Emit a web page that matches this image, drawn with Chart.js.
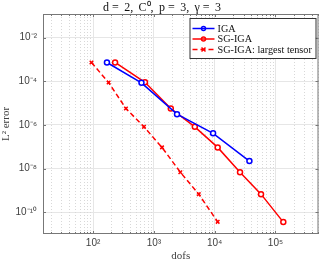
<!DOCTYPE html>
<html>
<head>
<meta charset="utf-8">
<script src="https://cdn.jsdelivr.net/npm/chart.js@4"></script>
<style>
  html, body { margin: 0; padding: 0; background: #fff; }
  #wrap { width: 324px; height: 263px; }
</style>
</head>
<body>
<div id="wrap"><canvas id="c" width="324" height="263"></canvas></div>
<script>
// values
const dofsIGA = [169, 625, 2401, 9409, 37249];
const errIGA = [7.2e-4, 8.4e-5, 3.1e-6, 4.1e-7, 2.2e-8];

const dofsSG = [230, 713, 1897, 4710, 11200, 26100, 57800, 134500];
const errSG = [7.2e-4, 8.9e-5, 5.6e-6, 8.1e-7, 9.3e-8, 6.8e-9, 6.7e-10, 3.5e-11];

const dofsTensor = [94, 180, 347, 687, 1360, 2720, 5470, 11200];
const errTensor = [7.2e-4, 8.7e-5, 5.6e-6, 8.1e-7, 9.3e-8, 6.8e-9, 6.7e-10, 3.6e-11];

const xTicks = [1e2, 1e3, 1e4, 1e5];
const yTicks = [1e-10, 1e-8, 1e-6, 1e-4, 1e-2];

const AX = '#404040';
const SUP = { '-': '⁻', '0': '⁰', '1': '¹', '2': '²', '3': '³', '4': '⁴', '5': '⁵', '6': '⁶', '7': '⁷', '8': '⁸', '9': '⁹' };
const pow10 = v => '10' + String(Math.round(Math.log10(v))).split('').map(c => SUP[c]).join('');

const pts = (xs, ys) => xs.map((x, i) => ({ x, y: ys[i] }));

// minor grid, inner ticks, box and legend
const matlabAxes = {
    id: 'matlabAxes',
    beforeDatasetsDraw(chart) {
        const { ctx, chartArea: a, scales: { x } } = chart;
        ctx.save();
        ctx.strokeStyle = '#d8d8d8';
        ctx.lineWidth = 1;
        ctx.setLineDash([1, 2]);
        for (let d = 1; d <= 5; d++) {
            for (let k = 2; k <= 9; k++) {
                const v = k * Math.pow(10, d);
                if (v < x.min || v > x.max) continue;
                const px = Math.round(x.getPixelForValue(v)) + 0.5;
                ctx.beginPath();
                ctx.moveTo(px, a.top);
                ctx.lineTo(px, a.bottom);
                ctx.stroke();
            }
        }
        ctx.restore();
    },
    afterDraw(chart) {
        const { ctx, chartArea: a, scales: { x, y } } = chart;
        ctx.save();
        ctx.strokeStyle = '#777';
        ctx.lineWidth = 1;
        // box
        ctx.strokeRect(a.left + 0.5, a.top + 0.5, a.right - a.left - 1, a.bottom - a.top - 1);
        // ticks
        ctx.beginPath();
        for (let d = 1; d <= 5; d++) {
            for (let k = 1; k <= 9; k++) {
                const v = k * Math.pow(10, d);
                if (v < x.min || v > x.max) continue;
                const len = k === 1 ? 3 : 2;
                const px = Math.round(x.getPixelForValue(v)) + 0.5;
                ctx.moveTo(px, a.bottom); ctx.lineTo(px, a.bottom - len);
                ctx.moveTo(px, a.top); ctx.lineTo(px, a.top + len);
            }
        }
        for (const v of yTicks) {
            const py = Math.round(y.getPixelForValue(v)) + 0.5;
            ctx.moveTo(a.left, py); ctx.lineTo(a.left + 3, py);
            ctx.moveTo(a.right, py); ctx.lineTo(a.right - 3, py);
        }
        ctx.stroke();

        // legend
        const w = 126, h = 40;
        const lx = a.right - w - 3, ly = a.top + 4;
        ctx.fillStyle = '#fff';
        ctx.fillRect(lx, ly, w, h);
        ctx.strokeStyle = '#333';
        ctx.strokeRect(lx + 0.5, ly + 0.5, w, h);
        ctx.font = '10.2px "Liberation Serif", serif';
        ctx.textBaseline = 'middle';
        chart.data.datasets.forEach((ds, i) => {
            const cy = ly + 10.5 + i * 10.5;
            ctx.strokeStyle = ds.borderColor;
            ctx.lineWidth = 1.5;
            ctx.setLineDash(ds.borderDash || []);
            ctx.beginPath();
            ctx.moveTo(lx + 3, cy); ctx.lineTo(lx + 25, cy);
            ctx.stroke();
            ctx.setLineDash([]);
            ctx.beginPath();
            const mx = lx + 14, r = 2;
            if (ds.pointStyle === 'circle') {
                ctx.arc(mx, cy, r, 0, Math.PI * 2);
            } else {
                ctx.moveTo(mx - r, cy - r); ctx.lineTo(mx + r, cy + r);
                ctx.moveTo(mx - r, cy + r); ctx.lineTo(mx + r, cy - r);
            }
            ctx.stroke();
            ctx.fillStyle = '#111';
            ctx.fillText(ds.label, lx + 28, cy + 0.5);
        });
        ctx.restore();
    }
};

new Chart(document.getElementById('c'), {
    type: 'line',
    data: {
        datasets: [
            {
                label: 'IGA',
                data: pts(dofsIGA, errIGA),
                borderColor: '#0000ff',
                backgroundColor: '#fff',
                borderWidth: 1.5,
                pointStyle: 'circle',
                pointRadius: 2.5,
                pointBorderWidth: 1.5,
            },
            {
                label: 'SG-IGA',
                data: pts(dofsSG, errSG),
                borderColor: '#ff0000',
                backgroundColor: '#fff',
                borderWidth: 1.5,
                pointStyle: 'circle',
                pointRadius: 2.5,
                pointBorderWidth: 1.5,
            },
            {
                label: 'SG-IGA: largest tensor',
                data: pts(dofsTensor, errTensor),
                borderColor: '#ff0000',
                backgroundColor: '#ff0000',
                borderWidth: 1.5,
                borderDash: [5, 3],
                pointStyle: 'crossRot',
                pointRadius: 2.5,
                pointBorderWidth: 1.5,
            },
        ],
    },
    options: {
        responsive: false,
        animation: false,
        layout: { padding: { left: 0, right: 0, top: 0, bottom: 0 } },
        plugins: {
            legend: { display: false },
            tooltip: { enabled: false },
            title: {
                display: true,
                text: 'd =\u2009 2,\u2009 C⁰,\u2009 p =\u2009 3,\u2009 γ =\u2009 3',
                color: '#111',
                font: { size: 12, family: '"Liberation Serif", serif', weight: 'normal', lineHeight: 1.0 },
                padding: { top: 2, bottom: 0 },
            },
        },
        scales: {
            x: {
                type: 'logarithmic',
                min: 15,
                max: 5.1e5,
                afterBuildTicks: s => { s.ticks = xTicks.map(v => ({ value: v })); },
                afterFit: s => { s.height = 29; },
                ticks: {
                    color: AX,
                    font: { size: 10, family: '"Liberation Sans", Arial, sans-serif' },
                    padding: 3,
                    maxRotation: 0,
                    callback: v => pow10(v),
                },
                grid: { color: '#e6e6e6', drawTicks: false },
                border: { display: false },
                title: {
                    display: true,
                    text: 'dofs',
                    color: AX,
                    font: { size: 11, family: '"Liberation Serif", serif' },
                    padding: { top: 0, bottom: 0 },
                },
            },
            y: {
                type: 'logarithmic',
                min: 1e-11,
                max: 1.2e-1,
                afterBuildTicks: s => { s.ticks = yTicks.map(v => ({ value: v })); },
                afterFit: s => { s.width = 43; },
                ticks: {
                    color: AX,
                    font: { size: 10, family: '"Liberation Sans", Arial, sans-serif' },
                    padding: 6,
                    callback: v => pow10(v),
                },
                grid: { color: '#e6e6e6', drawTicks: false },
                border: { display: false },
                title: {
                    display: true,
                    text: 'L² error',
                    color: AX,
                    font: { size: 11, family: '"Liberation Serif", serif' },
                    padding: { top: 0, bottom: 0 },
                },
            },
        },
    },
    plugins: [matlabAxes],
});
</script>
</body>
</html>
